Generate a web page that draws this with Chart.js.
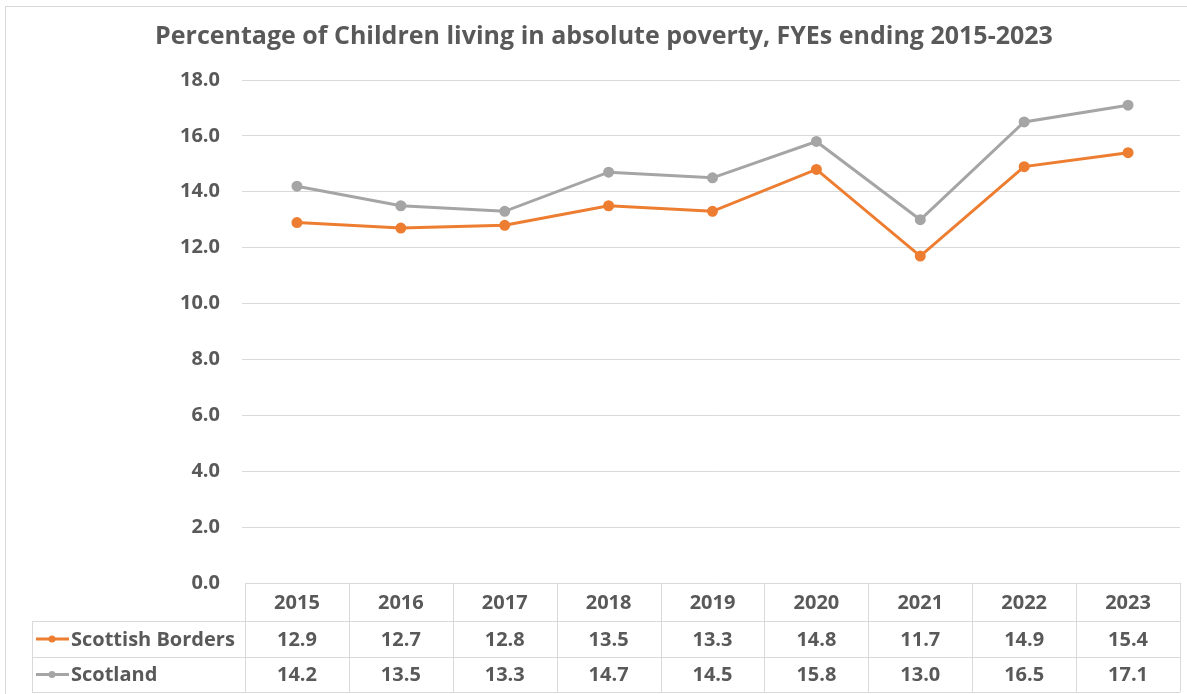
<!DOCTYPE html>
<html>
<head>
<meta charset="utf-8">
<script src="https://cdn.jsdelivr.net/npm/chart.js@4/dist/chart.umd.min.js"></script>
<style>
    html, body { margin: 0; padding: 0; background: #fff; overflow: hidden; }
    #wrap { position: relative; width: 1187px; height: 694px; }
    #frame { position: absolute; left: 5px; top: 6px; width: 1200px; height: 720px; border: 1px solid #d9d9d9; box-sizing: border-box; }
    canvas { position: absolute; left: 0; top: 0; }
</style>
</head>
<body>
<div id="wrap">
    <div id="frame"></div>
    <canvas id="povertyChart" width="1187" height="694"></canvas>
</div>
<script>
// ─── Data ─────────────────────────────────────────────────────────────────────

const years = ['2015', '2016', '2017', '2018', '2019', '2020', '2021', '2022', '2023'];
const bordersValues = [12.9, 12.7, 12.8, 13.5, 13.3, 14.8, 11.7, 14.9, 15.4];
const scotlandValues = [14.2, 13.5, 13.3, 14.7, 14.5, 15.8, 13.0, 16.5, 17.1];
const yTicks = [0, 2, 4, 6, 8, 10, 12, 14, 16, 18];

const chartTitle = 'Percentage of Children living in absolute poverty, FYEs ending 2015-2023';

// ─── Styles ───────────────────────────────────────────────────────────────────

const colors = {
    borders: '#ED7D31',
    scotland: '#A5A5A5',
    text: '#595959',
    grid: '#D9D9D9',
};

const fontFamily = '"Open Sans", Lato, sans-serif';
const tickFont = { family: fontFamily, size: 20, weight: 'bold' };

// table rows under the plot: header, then one row per series
const table = { top: 583, header: 621, row1: 657, bottom: 692, labelLeft: 32 };

// ─── Title + data table plugin ────────────────────────────────────────────────

const dataTablePlugin = {
    id: 'dataTable',
    afterDraw(chart) {
        const { ctx, chartArea } = chart;
        const x = chart.scales.x;
        const colW = (chartArea.right - chartArea.left) / years.length;

        ctx.save();

        // title
        ctx.fillStyle = colors.text;
        ctx.font = `bold 25px ${fontFamily}`;
        ctx.textAlign = 'center';
        ctx.textBaseline = 'middle';
        ctx.fillText(chartTitle, 604, 37);

        // grid of the table
        ctx.strokeStyle = colors.grid;
        ctx.lineWidth = 1;
        ctx.beginPath();
        ctx.moveTo(chartArea.left, table.top + 0.5);
        ctx.lineTo(chartArea.right, table.top + 0.5);
        [table.header, table.row1, table.bottom].forEach(y => {
            ctx.moveTo(table.labelLeft, y + 0.5);
            ctx.lineTo(chartArea.right, y + 0.5);
        });
        ctx.moveTo(table.labelLeft + 0.5, table.header);
        ctx.lineTo(table.labelLeft + 0.5, table.bottom);
        for (let i = 0; i <= years.length; i++) {
            const cx = Math.round(chartArea.left + i * colW) + 0.5;
            ctx.moveTo(cx, table.top);
            ctx.lineTo(cx, table.bottom);
        }
        ctx.stroke();

        // cell text
        ctx.fillStyle = colors.text;
        ctx.font = `bold ${tickFont.size}px ${fontFamily}`;
        const headerY = (table.top + table.header) / 2 + 1;
        const row1Y = (table.header + table.row1) / 2 + 1;
        const row2Y = (table.row1 + table.bottom) / 2 + 1;
        years.forEach((yr, i) => {
            const cx = x.getPixelForValue(i);
            ctx.fillText(yr, cx, headerY);
            ctx.fillText(bordersValues[i].toFixed(1), cx, row1Y);
            ctx.fillText(scotlandValues[i].toFixed(1), cx, row2Y);
        });

        // series keys in the label column
        chart.data.datasets.forEach((ds, i) => {
            const cy = i === 0 ? row1Y - 1 : row2Y - 1;
            ctx.strokeStyle = ds.borderColor;
            ctx.fillStyle = ds.borderColor;
            ctx.lineWidth = 3;
            ctx.beginPath();
            ctx.moveTo(36, cy);
            ctx.lineTo(69, cy);
            ctx.stroke();
            ctx.beginPath();
            ctx.arc(52, cy, 3.5, 0, Math.PI * 2);
            ctx.fill();

            ctx.fillStyle = colors.text;
            ctx.textAlign = 'left';
            ctx.fillText(ds.label, 71, cy + 1);
        });

        ctx.restore();
    },
};

// ─── Chart ────────────────────────────────────────────────────────────────────

const ctx = document.getElementById('povertyChart');

new Chart(ctx, {
    type: 'line',
    data: {
        labels: years,
        datasets: [
            {
                label: 'Scottish Borders',
                data: bordersValues,
                borderColor: colors.borders,
                backgroundColor: colors.borders,
                borderWidth: 3,
                pointRadius: 4,
                pointHoverRadius: 4,
                tension: 0,
            },
            {
                label: 'Scotland',
                data: scotlandValues,
                borderColor: colors.scotland,
                backgroundColor: colors.scotland,
                borderWidth: 3,
                pointRadius: 4,
                pointHoverRadius: 4,
                tension: 0,
            },
        ],
    },
    options: {
        responsive: false,
        animation: false,
        layout: { padding: { top: 80, right: 6, bottom: 111, left: 0 } },
        scales: {
            x: {
                display: false,
                offset: true,
            },
            y: {
                min: 0,
                max: 18,
                afterFit: scale => { scale.width = 245; },
                afterBuildTicks: scale => { scale.ticks = yTicks.map(v => ({ value: v })); },
                border: { display: false },
                grid: {
                    color: ctx => ctx.tick && ctx.tick.value === 0 ? 'transparent' : colors.grid,
                    tickColor: ctx => ctx.tick && ctx.tick.value === 0 ? 'transparent' : colors.grid,
                    drawTicks: true,
                    tickLength: 3,
                },
                ticks: {
                    padding: 22,
                    color: colors.text,
                    font: tickFont,
                    callback: v => v.toFixed(1),
                },
            },
        },
        plugins: {
            legend: { display: false },
            title: { display: false },
            tooltip: { enabled: false },
        },
    },
    plugins: [dataTablePlugin],
});
</script>
</body>
</html>
